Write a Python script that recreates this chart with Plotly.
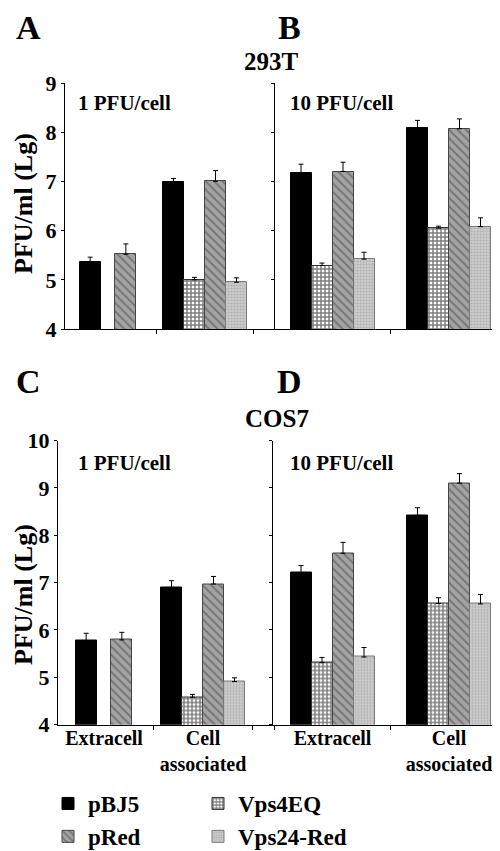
import plotly.graph_objects as go

# ---------------- data ----------------
categories = ["Extracell", "Cell<br>associated"]
series_names = ["pBJ5", "Vps4EQ", "pRed", "Vps24-Red"]

# 293T, 1 PFU/cell (panel A)
a_pBJ5 = [5.36, 6.98]
a_pBJ5_err = [0.10, 0.08]
a_Vps4EQ = [None, 5.00]
a_Vps4EQ_err = [None, 0.05]
a_pRed = [5.52, 7.00]
a_pRed_err = [0.21, 0.22]
a_Vps24 = [None, 4.95]
a_Vps24_err = [None, 0.09]

# 293T, 10 PFU/cell (panel B)
b_pBJ5 = [7.18, 8.09]
b_pBJ5_err = [0.17, 0.15]
b_Vps4EQ = [5.29, 6.05]
b_Vps4EQ_err = [0.05, 0.04]
b_pRed = [7.20, 8.07]
b_pRed_err = [0.19, 0.20]
b_Vps24 = [5.42, 6.08]
b_Vps24_err = [0.14, 0.18]

# COS7, 1 PFU/cell (panel C)
c_pBJ5 = [5.77, 6.90]
c_pBJ5_err = [0.16, 0.14]
c_Vps4EQ = [None, 4.58]
c_Vps4EQ_err = [None, 0.06]
c_pRed = [5.79, 6.97]
c_pRed_err = [0.16, 0.16]
c_Vps24 = [None, 4.91]
c_Vps24_err = [None, 0.08]

# COS7, 10 PFU/cell (panel D)
d_pBJ5 = [7.21, 8.42]
d_pBJ5_err = [0.15, 0.16]
d_Vps4EQ = [5.31, 6.56]
d_Vps4EQ_err = [0.11, 0.12]
d_pRed = [7.62, 9.10]
d_pRed_err = [0.23, 0.20]
d_Vps24 = [5.43, 6.55]
d_Vps24_err = [0.20, 0.20]

top_ticks = [4, 5, 6, 7, 8, 9]
bottom_ticks = [4, 5, 6, 7, 8, 9, 10]
y_title = "PFU/ml (Lg)"

# ---------------- layout helpers ----------------
W, H = 500, 851
FONT = "Liberation Serif, Times New Roman, serif"


def px(x):
    return x / W


def py(y):
    return 1 - y / H


styles = {
    "pBJ5": dict(color="black", line=dict(color="black", width=1)),
    "Vps4EQ": dict(color="white", line=dict(color="#333333", width=1),
                   pattern=dict(shape="+", fgcolor="black", bgcolor="white",
                                size=4, solidity=0.6)),
    "pRed": dict(color="#a0a0a0", line=dict(color="#444444", width=1),
                 pattern=dict(shape="\\", fgcolor="#4a4a4a", bgcolor="#a4a4a4",
                              size=6, solidity=0.35)),
    "Vps24-Red": dict(color="#c4c4c4", line=dict(color="#7a7a7a", width=1),
                      pattern=dict(shape=".", fgcolor="#949494", bgcolor="#cccccc",
                                   size=3, solidity=0.4)),
}
legend_of = {"pBJ5": "legend", "pRed": "legend", "Vps4EQ": "legend2", "Vps24-Red": "legend2"}

panels = [
    dict(key="A", xa="x", ya="y", xdom=(57, 267), ydom=(75, 321), yr=[4, 9],
         centers=(100, 197), two_bar_first=True, labels=False, yticklabels=True,
         vals=[a_pBJ5, a_Vps4EQ, a_pRed, a_Vps24],
         errs=[a_pBJ5_err, a_Vps4EQ_err, a_pRed_err, a_Vps24_err], ticks=top_ticks),
    dict(key="B", xa="x2", ya="y2", xdom=(267, 499), ydom=(75, 321), yr=[4, 9],
         centers=(324.5, 441), two_bar_first=False, labels=False, yticklabels=False,
         vals=[b_pBJ5, b_Vps4EQ, b_pRed, b_Vps24],
         errs=[b_pBJ5_err, b_Vps4EQ_err, b_pRed_err, b_Vps24_err], ticks=top_ticks),
    dict(key="C", xa="x3", ya="y3", xdom=(50, 265), ydom=(432.5, 716.7), yr=[4, 10],
         centers=(96, 195), two_bar_first=True, labels=True, yticklabels=True,
         vals=[c_pBJ5, c_Vps4EQ, c_pRed, c_Vps24],
         errs=[c_pBJ5_err, c_Vps4EQ_err, c_pRed_err, c_Vps24_err], ticks=bottom_ticks),
    dict(key="D", xa="x4", ya="y4", xdom=(265, 499), ydom=(432.5, 716.7), yr=[4, 10],
         centers=(324.5, 441), two_bar_first=False, labels=True, yticklabels=False,
         vals=[d_pBJ5, d_Vps4EQ, d_pRed, d_Vps24],
         errs=[d_pBJ5_err, d_Vps4EQ_err, d_pRed_err, d_Vps24_err], ticks=bottom_ticks),
]

fig = go.Figure()
BAR_PX = 21

for pi, p in enumerate(panels):
    unit = p["centers"][1] - p["centers"][0]
    w = BAR_PX / unit
    for k, name in enumerate(series_names):
        slot = (k - 2) * w
        if p["two_bar_first"]:
            first = {0: -1.35 * w, 2: 0.35 * w}.get(k, slot)
        else:
            first = slot
        st = styles[name]
        fig.add_trace(go.Bar(
            x=categories, y=p["vals"][k],
            xaxis=p["xa"], yaxis=p["ya"],
            name=name, legend=legend_of[name], showlegend=(pi == 0),
            offset=[first, slot], width=w,
            marker=st,
            error_y=dict(type="data", symmetric=False, array=p["errs"][k],
                         arrayminus=[0 if v is not None else None for v in p["errs"][k]],
                         color="black", thickness=1, width=2.5),
        ))

leg_common = dict(orientation="v", yanchor="top", xanchor="left", y=py(774),
                  font=dict(family=FONT, size=23, weight="bold"),
                  traceorder="normal", itemclick=False, itemdoubleclick=False,
                  bgcolor="rgba(0,0,0,0)", tracegroupgap=0)

layout = dict(
    width=W, height=H, margin=dict(l=0, r=0, t=0, b=0, autoexpand=False),
    paper_bgcolor="white", plot_bgcolor="white",
    font=dict(family=FONT, color="black", size=20, weight="bold"),
    barmode="overlay", bargap=0,
    showlegend=True,
    legend=dict(x=px(40), **leg_common),
    legend2=dict(x=px(190), **leg_common),
)

for pi, p in enumerate(panels):
    unit = p["centers"][1] - p["centers"][0]
    c0 = p["centers"][0]
    left = -(c0 - p["xdom"][0]) / unit
    right = (p["xdom"][1] - c0) / unit
    xname = "xaxis" if pi == 0 else f"xaxis{pi + 1}"
    yname = "yaxis" if pi == 0 else f"yaxis{pi + 1}"
    layout[xname] = dict(
        domain=[px(p["xdom"][0]), px(p["xdom"][1])], anchor=p["ya"],
        type="category", range=[left, right], tickson="boundaries",
        ticks="outside", ticklen=4, tickcolor="black", showline=True,
        linecolor="black", linewidth=1.2, showgrid=False, zeroline=False,
        showticklabels=p["labels"], fixedrange=True, automargin=False,
        ticklabelstandoff=-5,
        tickfont=dict(family=FONT, size=20, weight="bold"),
    )
    layout[yname] = dict(
        domain=[py(p["ydom"][1]), py(p["ydom"][0])], anchor=p["xa"],
        range=p["yr"], tickmode="array", tickvals=p["ticks"],
        ticks="outside", ticklen=3, tickcolor="black", showline=True,
        linecolor="black", linewidth=1.2, showgrid=False, zeroline=False,
        showticklabels=p["yticklabels"], fixedrange=True, automargin=False,
        tickfont=dict(family=FONT, size=22, weight="bold"),
    )

ann = []


def add_text(text, x, y, size, xanchor="center", angle=0):
    ann.append(dict(text=text, x=px(x), y=py(y), xref="paper", yref="paper",
                    xanchor=xanchor, yanchor="middle", showarrow=False,
                    textangle=angle,
                    font=dict(family=FONT, size=size, weight="bold", color="black")))


add_text("A", 20, 19, 34)
add_text("B", 281.5, 19, 34)
add_text("C", 20, 373, 34)
add_text("D", 281.5, 373, 34)
add_text("293T", 263, 53, 25)
add_text("COS7", 269, 410, 25)
add_text("1 PFU/cell", 68, 95, 21, "left")
add_text("10 PFU/cell", 280, 95, 21, "left")
add_text("1 PFU/cell", 68, 455, 21, "left")
add_text("10 PFU/cell", 280, 455, 21, "left")
add_text(y_title, 15, 196, 26, angle=-90)
add_text(y_title, 15, 587, 26, angle=-90)
layout["annotations"] = ann

fig.update_layout(**layout)
fig.write_html("out.html")
